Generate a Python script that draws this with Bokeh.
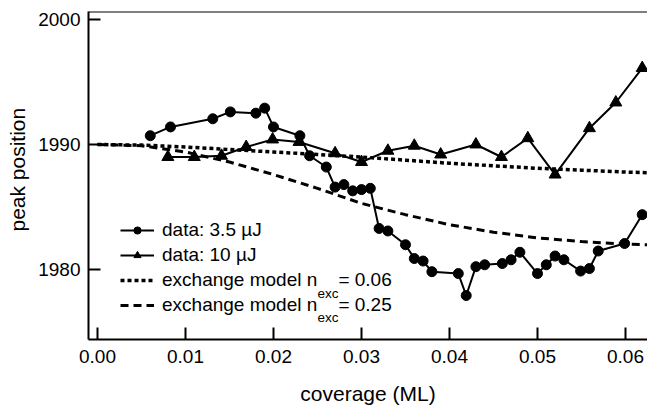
from bokeh.plotting import figure
from bokeh.models import (Range1d, FixedTicker, PrintfTickFormatter, Legend, LegendItem,
                          Label, Span)
from bokeh.embed import file_html
from bokeh.resources import INLINE

# ---- data ----
cov_35 = [0.0060, 0.0083, 0.0131, 0.0151, 0.0180, 0.0190, 0.0200, 0.0230, 0.0241, 0.0260,
          0.0270, 0.0280, 0.0290, 0.0300, 0.0310, 0.0320, 0.0330, 0.0350, 0.0360, 0.0370,
          0.0380, 0.0410, 0.0419, 0.0430, 0.0440, 0.0460, 0.0470, 0.0480, 0.0500, 0.0510,
          0.0520, 0.0530, 0.0549, 0.0559, 0.0569, 0.0599, 0.0619]
pos_35 = [1990.7, 1991.4, 1992.05, 1992.6, 1992.5, 1992.9, 1991.4, 1990.7, 1989.1, 1988.2,
          1986.6, 1986.8, 1986.3, 1986.4, 1986.5, 1983.3, 1983.1, 1982.0, 1980.9, 1980.7,
          1979.85, 1979.7, 1977.95, 1980.25, 1980.4, 1980.5, 1980.8, 1981.4, 1979.7, 1980.4,
          1981.1, 1980.8, 1979.9, 1980.1, 1981.5, 1982.1, 1984.4]

cov_10 = [0.0080, 0.0110, 0.0141, 0.0169, 0.0199, 0.0229, 0.0270, 0.0300, 0.0330, 0.0360,
          0.0390, 0.0430, 0.0459, 0.0489, 0.0520, 0.0559, 0.0589, 0.0619]
pos_10 = [1989.0, 1989.0, 1989.1, 1989.8, 1990.4, 1990.2, 1989.3, 1988.6, 1989.5, 1989.9,
          1989.2, 1990.0, 1989.0, 1990.5, 1987.6, 1991.3, 1993.35, 1996.1]

cov_model = [0.0, 0.005, 0.010, 0.015, 0.020, 0.025, 0.030, 0.035, 0.040, 0.045,
             0.050, 0.055, 0.060, 0.0625]
model_006 = [1990.0, 1989.95, 1989.8, 1989.6, 1989.4, 1989.2, 1989.0, 1988.75, 1988.5,
             1988.3, 1988.1, 1987.95, 1987.8, 1987.75]
model_025 = [1990.0, 1989.9, 1989.4, 1988.6, 1987.6, 1986.5, 1985.3, 1984.4, 1983.6,
             1983.0, 1982.55, 1982.25, 1982.05, 1982.0]

x_ticks = [0.0, 0.01, 0.02, 0.03, 0.04, 0.05, 0.06]
y_ticks = [1980, 1990, 2000]

FONT = "Liberation Sans"
X0, X1 = -0.00102, 0.0625
Y0, Y1 = 1974.44, 2000.61
PXU = 8800.0  # pixels per x unit (used only for text placement)

p = figure(width=647, height=407, output_backend="svg", toolbar_location=None,
           x_range=Range1d(X0, X1), y_range=Range1d(Y0, Y1),
           min_border_left=88, min_border_right=0, min_border_top=11, min_border_bottom=68)
p.outline_line_color = None
p.grid.visible = False
p.background_fill_color = "white"

for ax in (p.xaxis[0], p.yaxis[0]):
    ax.axis_line_width = 2
    ax.axis_line_color = "black"
    ax.major_tick_line_width = 2
    ax.major_tick_line_color = "black"
    ax.major_tick_in = 12
    ax.major_tick_out = 0
    ax.minor_tick_line_color = None
    ax.major_label_text_font = FONT
    ax.major_label_text_font_size = "19px"
    ax.major_label_text_color = "black"
    ax.axis_label_text_font = FONT
    ax.axis_label_text_font_size = "21px"
    ax.axis_label_text_font_style = "normal"
    ax.axis_label_text_color = "black"

p.xaxis.ticker = FixedTicker(ticks=x_ticks)
p.xaxis.formatter = PrintfTickFormatter(format="%.2f")
p.xaxis.axis_label = "coverage (ML)"
p.xaxis.major_label_standoff = 10
p.xaxis.axis_label_standoff = 16

p.yaxis.ticker = FixedTicker(ticks=y_ticks)
p.yaxis.axis_label = "\u00a0\u00a0peak position"
p.yaxis.major_label_standoff = 8
p.yaxis.axis_label_standoff = 6

p.add_layout(Span(location=Y1, dimension="width", line_color="black", line_width=2))

r_dot = p.line(cov_model, model_006, line_color="black", line_width=3.5, line_dash="4 3")
r_dash = p.line(cov_model, model_025, line_color="black", line_width=3, line_dash="8 5")

l35 = p.line(cov_35, pos_35, line_color="black", line_width=2)
s35 = p.scatter(cov_35, pos_35, marker="circle", size=10, fill_color="black", line_color="black")
l10 = p.line(cov_10, pos_10, line_color="black", line_width=2)
s10 = p.scatter(cov_10, pos_10, marker="triangle", size=12, fill_color="black", line_color="black")

NB = "\u00a0" * 4
legend = Legend(items=[
    LegendItem(label="data: 3.5 µJ", renderers=[l35, s35]),
    LegendItem(label="data: 10 µJ", renderers=[l10, s10]),
    LegendItem(label="exchange model n" + NB + "= 0.06", renderers=[r_dot]),
    LegendItem(label="exchange model n" + NB + "= 0.25", renderers=[r_dash]),
], location=(32, 23), padding=0, margin=0, spacing=3, glyph_width=34, glyph_height=18,
    label_height=18, label_standoff=8, border_line_color=None, background_fill_alpha=0,
    label_text_font=FONT, label_text_font_size="19px", label_text_color="black")
p.add_layout(legend)

# subscripts "exc"
for yb in (1978.13, 1976.19):
    p.add_layout(Label(x=X0 + 229 / PXU, y=yb, text="exc", text_font=FONT,
                       text_font_size="13.5px", text_baseline="alphabetic", text_color="black"))

open("out.html", "w").write(file_html(p, INLINE))
